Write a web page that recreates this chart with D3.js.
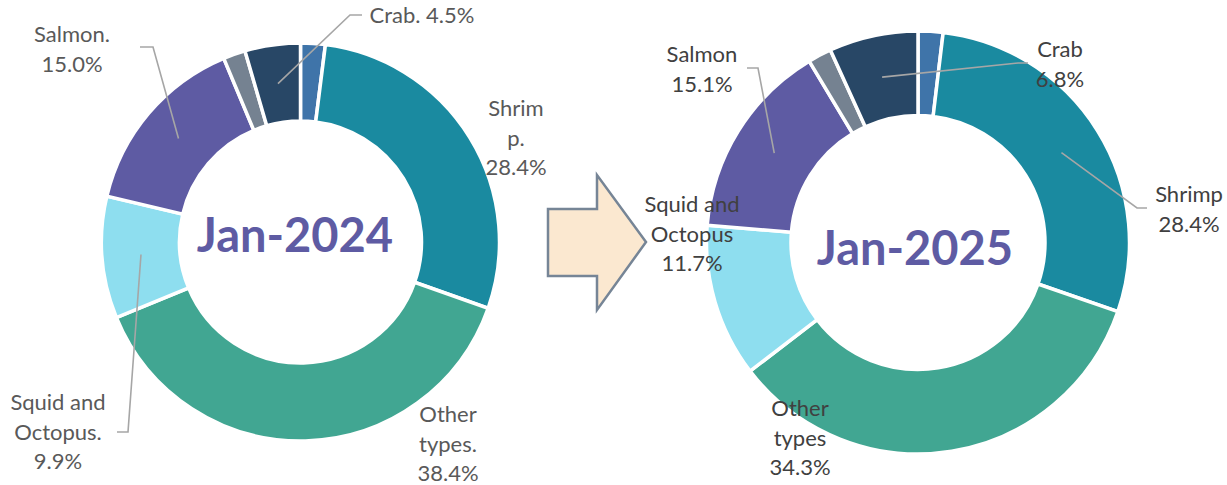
<!DOCTYPE html>
<html>
<head>
<meta charset="utf-8">
<script src="https://cdn.jsdelivr.net/npm/d3@7"></script>
<style>
  html, body { margin: 0; padding: 0; background: #fff; }
  svg { display: block; }
  .lbl { font-family: Lato, "Open Sans", sans-serif; font-size: 22px; }
  .title { font-family: Lato, "Open Sans", sans-serif; font-weight: 700; font-size: 47px; fill: #5e5ba3; }
</style>
</head>
<body>
<svg id="chart" width="1227" height="485"></svg>
<script>
/*******************************/
/*            Data             */
/*******************************/

// clockwise from 12 o'clock; the two thin slices have no label in the source
var categories = ["Unlabeled A", "Shrimp", "Other types", "Squid and Octopus", "Salmon", "Unlabeled B", "Crab"];
var values_2024 = [2.0, 28.4, 38.4, 9.9, 15.0, 1.8, 4.5];
var values_2025 = [1.9, 28.4, 34.3, 11.7, 15.1, 1.8, 6.8];

// label words (the percentage is appended from the values)
var names_2024 = [null, ["Shrim", "p."], ["Other", "types."], ["Squid and", "Octopus."], ["Salmon."], null, ["Crab."]];
var names_2025 = [null, ["Shrimp"], ["Other", "types"], ["Squid and", "Octopus"], ["Salmon"], null, ["Crab"]];

var titles = ["Jan-2024", "Jan-2025"];

var colors = ["#3f74a9", "#1a8aa0", "#41a692", "#8edeef", "#5e5ba3", "#758291", "#284766"];

/*******************************/
/*           Layout            */
/*******************************/

// label anchor (first baseline), optional leader elbow/end
var layout_2024 = {
  1: {x: 516, y: 116},
  2: {x: 448, y: 422},
  3: {x: 58,  y: 410, elbow: [128, 432], end: [117, 432]},
  4: {x: 72,  y: 42,  elbow: [153, 47],  end: [140, 47]},
  6: {x: 422, y: 23,  inline: true, elbow: [350, 15], end: [362, 15]}
};
var layout_2025 = {
  1: {x: 1189, y: 202, elbow: [1137, 208], end: [1147, 208]},
  2: {x: 800,  y: 416},
  3: {x: 692,  y: 212},
  4: {x: 702,  y: 62,  elbow: [758, 68],  end: [747, 68]},
  6: {x: 1060, y: 57,  elbow: [1018, 63], end: [1028, 63]}
};

var svg = d3.select("#chart");
var fmt = d3.format(".1f");

var pie = d3.pie()
  .sort(null)
  .value(function(d) { return d; });

function draw_donut(cfg) {
  var g = svg.append("g")
    .attr("transform", "translate(" + cfg.cx + "," + cfg.cy + ")");

  var arc = d3.arc()
    .innerRadius(cfg.r0)
    .outerRadius(cfg.r1);

  var mid = d3.arc()
    .innerRadius((cfg.r0 + cfg.r1) / 2)
    .outerRadius((cfg.r0 + cfg.r1) / 2);

  var arcs = pie(cfg.values);

  g.selectAll(".slice")
    .data(arcs)
    .enter()
    .append("path")
    .attr("class", "slice")
    .attr("d", arc)
    .attr("fill", function(d, i) { return colors[i]; })
    .attr("stroke", "#fff")
    .attr("stroke-width", 3.5);

  g.append("text")
    .attr("class", "title")
    .attr("x", cfg.titleX - cfg.cx)
    .attr("y", cfg.titleY - cfg.cy)
    .attr("text-anchor", "middle")
    .text(cfg.title);

  // leader lines: from the slice centroid to the label
  arcs.forEach(function(a, i) {
    var lay = cfg.layout[i];
    if (!lay || !lay.elbow) return;
    var c = mid.centroid(a);
    var pts = [
      [c[0] + cfg.cx, c[1] + cfg.cy],
      lay.elbow,
      lay.end
    ];
    svg.append("path")
      .attr("d", d3.line()(pts))
      .attr("fill", "none")
      .attr("stroke", "#a6a6a6")
      .attr("stroke-width", 1.6);
  });

  // labels
  arcs.forEach(function(a, i) {
    var lay = cfg.layout[i];
    if (!lay) return;
    var pct = fmt(cfg.values[i]) + "%";
    var lines = lay.inline ? [cfg.names[i].join(" ") + " " + pct] : cfg.names[i].concat([pct]);
    var t = svg.append("text")
      .attr("class", "lbl")
      .attr("text-anchor", "middle")
      .attr("fill", cfg.textColor);
    lines.forEach(function(s, k) {
      t.append("tspan")
        .attr("x", lay.x)
        .attr("y", lay.y + k * 29.5)
        .text(s);
    });
  });
}

/*******************************/
/*           Arrow             */
/*******************************/

var arrow_pts = [[548, 209], [597, 209], [597, 175], [646, 242], [597, 310], [597, 276], [548, 276]];
svg.append("path")
  .attr("d", d3.line()(arrow_pts) + "Z")
  .attr("fill", "#fbe8d0")
  .attr("stroke", "#768596")
  .attr("stroke-width", 2.5)
  .attr("stroke-linejoin", "miter");

draw_donut({
  cx: 300.5, cy: 242, r0: 121, r1: 199,
  values: values_2024, names: names_2024, layout: layout_2024,
  title: titles[0], titleX: 295, titleY: 252, textColor: "#595959"
});

draw_donut({
  cx: 918, cy: 242.5, r0: 127, r1: 211.5,
  values: values_2025, names: names_2025, layout: layout_2025,
  title: titles[1], titleX: 915, titleY: 265, textColor: "#404040"
});
</script>
</body>
</html>
